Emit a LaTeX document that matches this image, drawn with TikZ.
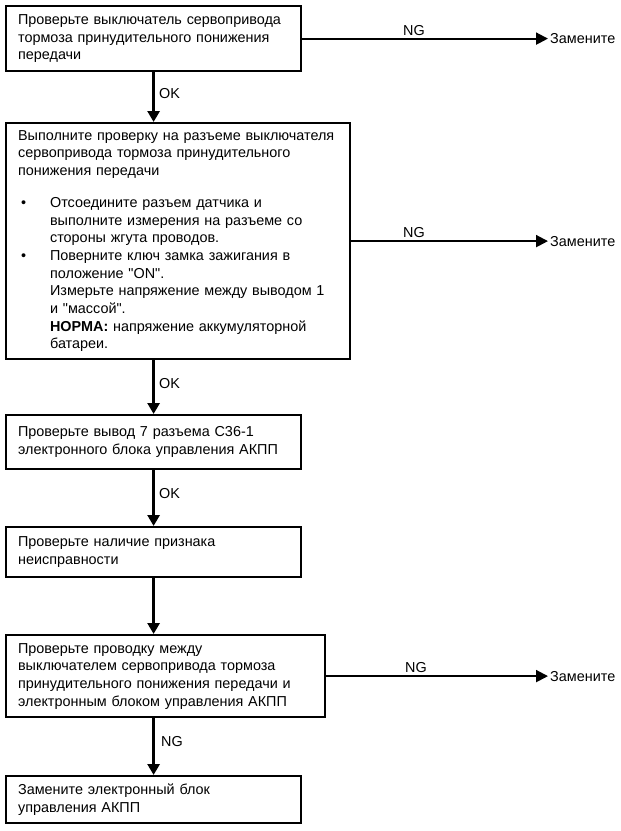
\documentclass[tikz,border=0pt]{standalone}
\usepackage{fontspec}
\setmainfont{Liberation Sans}[Ligatures=TeXOff]
\usetikzlibrary{arrows.meta}
\begin{document}
\begin{tikzpicture}[x=1pt,y=1pt,
  box/.style={draw,line width=2.2pt,anchor=north west,align=left,inner xsep=12pt,inner ysep=0pt,
    font=\fontsize{14.4}{17.7}\selectfont},
  varrow/.style={line width=3pt,-{Triangle[length=11pt,width=12pt]}},
  harrow/.style={line width=2pt,-{Triangle[length=12pt,width=12pt]}},
  lbl/.style={font=\fontsize{14.4}{16}\selectfont,inner sep=0pt}]
\useasboundingbox (0,0) rectangle (621,-831);
\node[box,minimum width=295,minimum height=65,text width=271] (b1) at (5,-5)
  {Проверьте выключатель сервопривода\\тормоза принудительного понижения\\передачи};
\node[box,minimum width=344,minimum height=236,text width=320] (b2) at (5,-122)
  {Выполните проверку на разъеме выключателя\\сервопривода тормоза принудительного\\понижения передачи\\[14pt]
  \makebox[32pt][l]{\hspace{3pt}•}Отсоедините разъем датчика и\\
  \hspace*{32pt}выполните измерения на разъеме со\\
  \hspace*{32pt}стороны жгута проводов.\\
  \makebox[32pt][l]{\hspace{3pt}•}Поверните ключ замка зажигания в\\
  \hspace*{32pt}положение "ON".\\
  \hspace*{32pt}Измерьте напряжение между выводом 1\\
  \hspace*{32pt}и "массой".\\
  \hspace*{32pt}\textbf{НОРМА:} напряжение аккумуляторной\\
  \hspace*{32pt}батареи.};
\node[box,minimum width=295,minimum height=54,text width=271] (b3) at (5,-414)
  {Проверьте вывод 7 разъема C36-1\\электронного блока управления АКПП};
\node[box,minimum width=295,minimum height=50,text width=271] (b4) at (5,-526)
  {Проверьте наличие признака\\неисправности};
\node[box,minimum width=319,minimum height=82,text width=295] (b5) at (5,-634)
  {Проверьте проводку между\\выключателем сервопривода тормоза\\принудительного понижения передачи и\\электронным блоком управления АКПП};
\node[box,minimum width=295,minimum height=47,text width=271] (b6) at (5,-775)
  {Замените электронный блок\\управления АКПП};
% right branches
\coordinate (r1) at (548,0 |- b1.east);
\coordinate (r2) at (548,0 |- b2.east);
\coordinate (r5) at (548,0 |- b5.east);
\draw[harrow] (b1.east) -- (r1);
\draw[harrow] (b2.east) -- (r2);
\draw[harrow] (b5.east) -- (r5);
\node[lbl,anchor=west] (z1) at ([xshift=2pt]r1) {Замените};
\node[lbl,anchor=west] (z2) at ([xshift=2pt]r2) {Замените};
\node[lbl,anchor=west] (z5) at ([xshift=2pt]r5) {Замените};
\node[lbl,anchor=south] (n1) at ([yshift=3pt]414,0 |- b1.east) {NG};
\node[lbl,anchor=south] (n2) at ([yshift=3pt]414,0 |- b2.east) {NG};
\node[lbl,anchor=south] (n5) at ([yshift=3pt]416,0 |- b5.east) {NG};
% vertical arrows
\draw[varrow] (b1.south) -- (b1.south |- b2.north);
\draw[varrow] (b3.north |- b2.south) -- (b3.north);
\draw[varrow] (b3.south) -- (b4.north);
\draw[varrow] (b4.south) -- (b4.south |- b5.north);
\draw[varrow] (b6.north |- b5.south) -- (b6.north);
\node[lbl,anchor=west] (o1) at (159,-94) {OK};
\node[lbl,anchor=west] (o2) at (159,-384) {OK};
\node[lbl,anchor=west] (o3) at (159,-494) {OK};
\node[lbl,anchor=west] (o5) at (161,-742) {NG};
\end{tikzpicture}
\end{document}
